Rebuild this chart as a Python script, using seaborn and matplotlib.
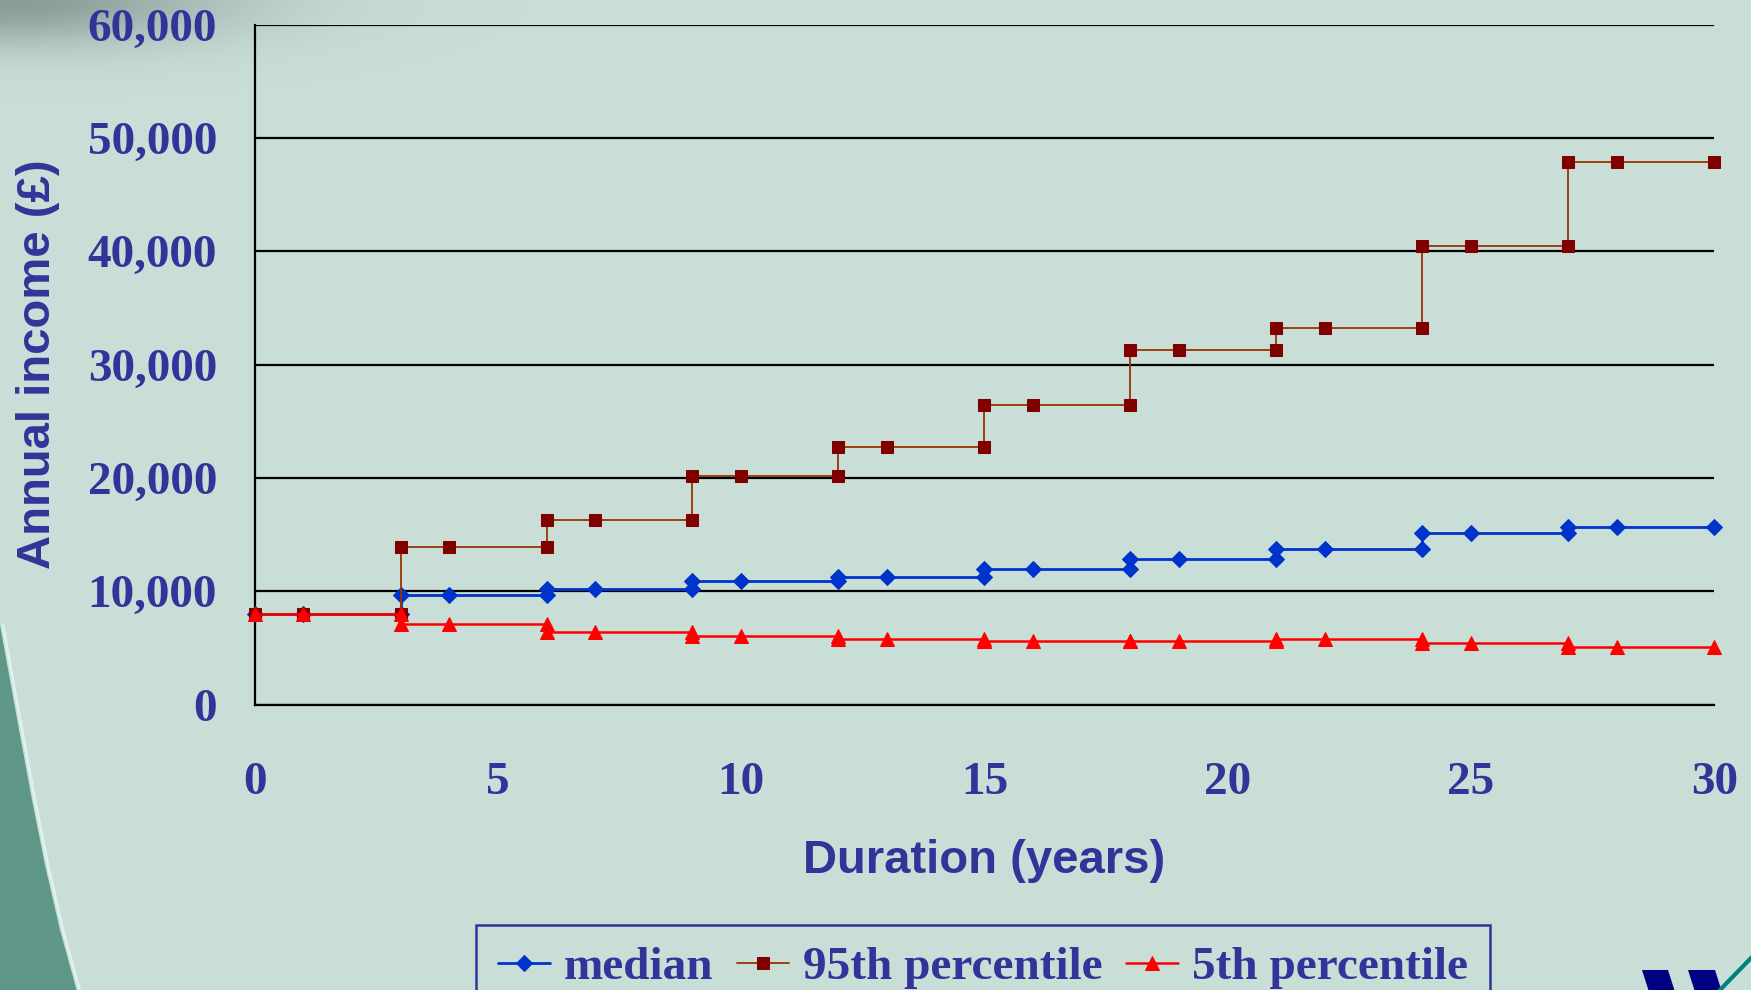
import numpy as np
import pandas as pd
import seaborn as sns
import matplotlib.pyplot as plt
from matplotlib.patches import Polygon
from matplotlib.ticker import FuncFormatter, MultipleLocator

# values; each step year appears twice (old level, new level)
years = [0, 1, 3, 3, 4, 6, 6, 7, 9, 9, 10, 12, 12, 13, 15, 15, 16, 18, 18, 19,
         21, 21, 22, 24, 24, 25, 27, 27, 28, 30]
median = [8000, 8000, 8000, 9650, 9650, 9650, 10200, 10200, 10200, 10870, 10870,
          10870, 11240, 11240, 11240, 11950, 11950, 11950, 12830, 12830, 12830,
          13720, 13720, 13720, 15130, 15130, 15130, 15660, 15660, 15660]
pct95 = [8000, 8000, 8000, 13870, 13870, 13870, 16320, 16320, 16320, 20200, 20200,
         20200, 22730, 22730, 22730, 26390, 26390, 26390, 31310, 31310, 31310,
         33270, 33270, 33270, 40490, 40490, 40490, 47880, 47880, 47880]
pct5 = [8000, 8000, 8000, 7110, 7110, 7110, 6410, 6410, 6410, 6050, 6050, 6050,
        5830, 5830, 5830, 5650, 5650, 5650, 5650, 5650, 5650, 5830, 5830, 5830,
        5470, 5470, 5470, 5120, 5120, 5120]
x_ticks = [0, 5, 10, 15, 20, 25, 30]

BG = '#C9DED7'
TEXT = '#333399'
SANS = ['Liberation Sans', 'DejaVu Sans']

sns.set_theme(style='white')
plt.rcParams['font.family'] = ['Liberation Serif', 'DejaVu Serif']
plt.rcParams['font.weight'] = 'bold'

df = pd.DataFrame({'years': years, 'median': median,
                   '95th percentile': pct95, '5th percentile': pct5})

fig = plt.figure(figsize=(17.51, 9.90), dpi=100, facecolor=BG)

# slide decoration behind the chart
bg = fig.add_axes([0, 0, 1, 1], zorder=-10)
bg.set_xlim(0, 1751)
bg.set_ylim(990, 0)
bg.axis('off')
yy, xx = np.mgrid[0:990, 0:1751]
shade = np.exp(-((xx / 230.0) ** 2 + (yy / 45.0) ** 2))
img = np.zeros((990, 1751, 4))
img[..., 0] = 0.45
img[..., 1] = 0.53
img[..., 2] = 0.51
img[..., 3] = 0.75 * shade
bg.imshow(img, extent=(0, 1751, 990, 0), aspect='auto', interpolation='bilinear')
curve = [(0, 625), (10, 680), (20, 735), (32, 800), (45, 865), (60, 930), (78, 995)]
bg.add_patch(Polygon(curve + [(0, 995)], closed=True, color='#5E9787', lw=0))
bg.plot([p[0] + 3 for p in curve], [p[1] for p in curve], color='#DDF2EC', lw=2)
bg.add_patch(Polygon([(1642, 970), (1668, 970), (1676, 995), (1650, 995)], color='#000080', lw=0))
bg.add_patch(Polygon([(1688, 970), (1715, 970), (1723, 995), (1696, 995)], color='#000080', lw=0))
bg.plot([1718, 1752], [992, 957], color='#008080', lw=3)

ax = fig.add_axes([0.1454, 0.2883, 0.8336, 0.6869])
ax.set_facecolor('none')

series = [
    ('median', '#0033CC', '#0033CC', 'D', 8, 2.0),
    ('95th percentile', '#993300', '#800000', 's', 9, 1.3),
    ('5th percentile', '#FF0000', '#FF0000', '^', 10, 1.8),
]
for name, line_c, mark_c, marker, ms, lw in series:
    sns.lineplot(data=df, x='years', y=name, ax=ax, sort=False, estimator=None,
                 color=line_c, marker=marker, markersize=ms, markerfacecolor=mark_c,
                 markeredgecolor=mark_c, linewidth=lw, label=name, clip_on=False,
                 zorder=3)

ax.set_xlim(0, 30)
ax.set_ylim(0, 60000)
ax.set_xticks(x_ticks)
ax.yaxis.set_major_locator(MultipleLocator(10000))
ax.yaxis.set_major_formatter(FuncFormatter(lambda v, p: f'{v:,.0f}'))
ax.yaxis.grid(True, color='black', lw=1.6)
ax.xaxis.grid(False)
for s in ['top', 'right']:
    ax.spines[s].set_visible(False)
for s in ['left', 'bottom']:
    ax.spines[s].set_color('black')
    ax.spines[s].set_linewidth(1.6)

ax.tick_params(axis='both', direction='out', length=12, width=1.6, color='black',
               labelcolor=TEXT, labelsize=34)
ax.tick_params(axis='x', pad=29)
ax.tick_params(axis='y', pad=15)
for lab in ax.get_xticklabels() + ax.get_yticklabels():
    lab.set_fontweight('bold')

ax.set_xlabel('Duration (years)', family=SANS, fontsize=34, fontweight='bold', color=TEXT)
ax.set_ylabel('Annual income (£)', family=SANS, fontsize=34, fontweight='bold', color=TEXT)
ax.xaxis.set_label_coords(0.5, -0.198)
ax.yaxis.set_label_coords(-0.133, 0.5)

leg = ax.legend(loc='upper center', bbox_to_anchor=(0.5614, 0.0657),
                bbox_transform=fig.transFigure, ncol=3, frameon=True, fancybox=False,
                edgecolor=TEXT, facecolor=BG, framealpha=1,
                prop=dict(family='Liberation Serif', weight='bold', size=34),
                handlelength=1.1, handletextpad=0.3, columnspacing=0.5,
                borderpad=0.45, borderaxespad=0)
leg.get_frame().set_linewidth(1.8)
for t in leg.get_texts():
    t.set_color(TEXT)

fig.savefig('out.png', dpi=100, facecolor=BG)
